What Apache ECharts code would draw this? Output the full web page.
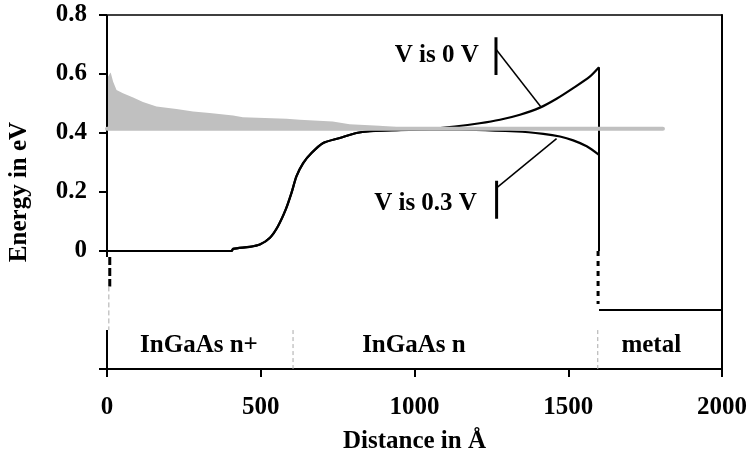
<!DOCTYPE html>
<html>
<head>
<meta charset="utf-8">
<script src="https://cdn.jsdelivr.net/npm/echarts@6/dist/echarts.min.js"></script>
<style>
  html, body { margin: 0; padding: 0; background: #fff; }
  #chart { width: 748px; height: 454px; }
</style>
</head>
<body>
<div id="chart"></div>
<script>
// band diagram: InGaAs n+ / InGaAs n / metal
const xTicks = [0, 500, 1000, 1500, 2000];
const yLabels = [0, 0.2, 0.4, 0.6, 0.8];
const yTickVals = [-0.4, 0, 0.2, 0.4, 0.6, 0.8];

// grey filled region above the Fermi level
const distFill = [0, 12, 20, 31, 52, 85, 117, 161, 226, 280, 334, 410, 442, 584, 627, 734, 789, 886, 942, 1000];
const energyFill = [0.586, 0.605, 0.574, 0.546, 0.535, 0.52, 0.505, 0.49, 0.481, 0.473, 0.468, 0.459, 0.453, 0.448, 0.445, 0.439, 0.43, 0.425, 0.42, 0.416];

// Fermi level (grey line)
const fermiLevel = 0.414;
const fermiEnd = 1808;

// band edge, V is 0 V
const dist0V = [0, 405, 410, 464, 497, 530, 556, 581, 600, 616, 638, 665, 703, 757, 811, 855, 942, 1050, 1131, 1212, 1278, 1343, 1408, 1462, 1516, 1570, 1600];
const energy0V = [0, 0, 0.007, 0.014, 0.022, 0.045, 0.084, 0.14, 0.197, 0.253, 0.298, 0.332, 0.366, 0.383, 0.4, 0.406, 0.41, 0.414, 0.422, 0.433, 0.445, 0.462, 0.486, 0.516, 0.552, 0.591, 0.623];

// band edge, V is 0.3 V
const dist03V = [0, 405, 410, 464, 497, 530, 556, 581, 600, 616, 638, 665, 703, 757, 811, 855, 942, 1100, 1332, 1419, 1473, 1516, 1560, 1600];
const energy03V = [0, 0, 0.007, 0.014, 0.022, 0.045, 0.084, 0.14, 0.197, 0.253, 0.298, 0.332, 0.366, 0.383, 0.4, 0.406, 0.41, 0.412, 0.405, 0.397, 0.388, 0.375, 0.355, 0.326];

// interface at 1600 Å, metal level and dashed drops
const interfaceX = 1600;
const metalLevel = -0.2;
const leftDropBlack = [[9, -0.02], [9, -0.12]];
const leftDropGrey = [[6, -0.12], [6, -0.268]];
const rightDrop = [[1597, 0], [1597, -0.18]];

// layer boxes at the bottom
const layerTop = -0.268;
const layerBounds = [605, 1596];
const layerNames = ['InGaAs n+', 'InGaAs n', 'metal'];
const layerPos = [299, 998, 1770];
const layerY = -0.322;

// callouts
const calloutText = ['V is 0 V', 'V is 0.3 V'];
const calloutTextPos = [[1209, 0.661], [1203, 0.16]];
const calloutBars = [[[1265, 0.725], [1265, 0.597]], [[1267, 0.238], [1267, 0.109]]];
const calloutLines = [[[1265, 0.684], [1410, 0.49]], [[1267, 0.214], [1462, 0.381]]];

const font = '"Liberation Serif", "Times New Roman", serif';
const txt = { fontFamily: font, fontWeight: 'bold', fontSize: 25, color: '#000' };

function zip(xs, ys) { return xs.map((x, i) => [x, ys[i]]); }

function seg(pts, color, width, type, smooth) {
  return {
    type: 'line', data: pts, symbol: 'none', silent: true, smooth: smooth || false,
    lineStyle: { color: color, width: width, type: type || 'solid', cap: 'butt' }
  };
}

const series = [];

// left axis line, broken between 0 and the layer boxes
series.push(seg([[0, 0.8], [0, -0.02]], '#000', 2));
series.push(seg([[0, layerTop], [0, -0.4]], '#000', 2));

// band edges
series.push(seg(zip(dist0V, energy0V), '#000', 2.2, null, 0.25));
series.push(seg(zip(dist03V, energy03V), '#000', 2.2, null, 0.25));
series.push(seg([[interfaceX, energy0V[energy0V.length - 1]], [interfaceX, 0]], '#000', 2));

// grey fill + Fermi level
series.push({
  type: 'line', data: zip(distFill, energyFill), symbol: 'none', silent: true,
  lineStyle: { width: 0 },
  areaStyle: { color: '#c0c0c0', opacity: 1, origin: fermiLevel }
});
series.push({
  type: 'line', data: [[0, fermiLevel], [fermiEnd, fermiLevel]], symbol: 'none', silent: true,
  lineStyle: { color: '#c0c0c0', width: 4, cap: 'round' }
});

// drops and metal level
series.push(seg(leftDropBlack, '#000', 3, [8, 3]));
series.push(seg(leftDropGrey, '#aaa', 1, [5, 3]));
series.push(seg(rightDrop, '#000', 3, [5, 5]));
series.push(seg([[interfaceX, metalLevel], [2000, metalLevel]], '#000', 2));

// layer separators
layerBounds.forEach(b => series.push(seg([[b, layerTop], [b, -0.4]], '#aaa', 1, [4, 3])));

// callouts
calloutBars.forEach(p => series.push(seg(p, '#000', 3)));
calloutLines.forEach(p => series.push(seg(p, '#000', 1.5)));

// texts
const lbl = Object.assign({ show: true, formatter: '{b}', position: [0, 0], verticalAlign: 'middle', opacity: 1, textBorderWidth: 0 }, txt);
series.push({
  type: 'scatter', symbolSize: 0, silent: true, itemStyle: { opacity: 1 },
  data: calloutText.map((t, i) => ({ name: t, value: calloutTextPos[i] })),
  label: Object.assign({}, lbl, { align: 'right' })
});
series.push({
  type: 'scatter', symbolSize: 0, silent: true, itemStyle: { opacity: 1 },
  data: layerNames.map((t, i) => ({ name: t, value: [layerPos[i], layerY] })),
  label: Object.assign({}, lbl, { align: 'center' })
});

const chart = echarts.init(document.getElementById('chart'));
chart.setOption({
  animation: false,
  grid: { left: 107, right: 26, top: 15, bottom: 85, outerBoundsMode: 'none', containLabel: false },
  xAxis: [{
    type: 'value', min: 0, max: 2000, interval: 500,
    name: 'Distance in Å', nameLocation: 'middle', nameGap: 60,
    nameTextStyle: txt,
    axisLine: { show: true, onZero: false, lineStyle: { color: '#000', width: 2 } },
    axisTick: { show: true, inside: false, length: 8, lineStyle: { color: '#000', width: 2 } },
    axisLabel: Object.assign({ margin: 26, customValues: xTicks, formatter: v => String(v) }, txt),
    splitLine: { show: false }
  }, {
    type: 'value', min: 0, max: 2000, position: 'top',
    axisLine: { show: true, onZero: false, lineStyle: { color: '#000', width: 1.5 } },
    axisTick: { show: false }, axisLabel: { show: false }, splitLine: { show: false }
  }],
  yAxis: [{
    type: 'value', min: -0.4, max: 0.8, interval: 0.2,
    name: 'Energy in eV', nameLocation: 'middle', nameGap: 75,
    nameTextStyle: txt,
    axisLine: { show: false },
    axisTick: { show: true, inside: false, length: 8, customValues: yTickVals, lineStyle: { color: '#000', width: 2 } },
    axisLabel: Object.assign({
      margin: 20, customValues: yLabels,
      formatter: v => (Math.abs(v) < 1e-9 ? '0' : v.toFixed(1))
    }, txt),
    splitLine: { show: false }
  }, {
    type: 'value', min: -0.4, max: 0.8, position: 'right',
    axisLine: { show: true, onZero: false, lineStyle: { color: '#000', width: 2 } },
    axisTick: { show: false }, axisLabel: { show: false }, splitLine: { show: false }
  }],
  series: series
});
</script>
</body>
</html>
